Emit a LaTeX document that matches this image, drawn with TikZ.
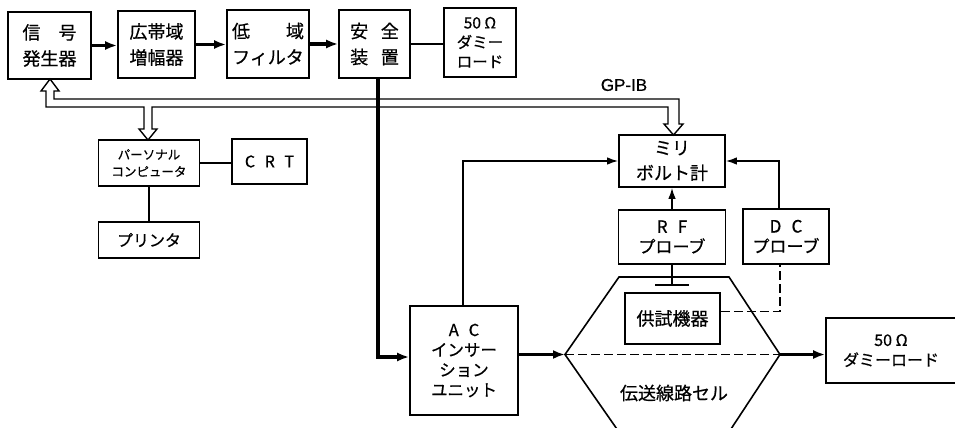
\documentclass[tikz,border=0pt]{standalone}
\usepackage{fontspec}
\setmainfont[FakeBold=0.6]{Noto Sans CJK JP}
\newfontfamily\latf[FakeBold=0.5]{Liberation Sans}
\usetikzlibrary{arrows.meta}
\tikzset{
  box/.style={draw, line width=1.6pt, inner sep=0pt, align=center},
  big/.style={font=\fontsize{18}{26}\selectfont},
  mid/.style={font=\fontsize{15.5}{19.5}\selectfont},
  thickarr/.style={line width=3.2pt, -{Latex[length=12pt,width=9pt]}},
  thinarr/.style={line width=1.6pt, -{Latex[length=11pt,width=7.5pt]}},
  thinline/.style={line width=1.6pt},
  dashline/.style={line width=1.6pt, dash pattern=on 9pt off 4pt},
  bus/.style={line width=1.4pt, line join=miter}
}
\begin{document}
\begin{tikzpicture}[x=1pt,y=-1pt]
\fill[white] (0,0) rectangle (955,428);
\useasboundingbox (0,0) rectangle (955,428);
\clip (0,0) rectangle (955,428);

% top row
\node[box,big,minimum width=83pt,minimum height=67pt] (sg) at (49.5,45.5) {信　号\\発生器};
\node[box,big,minimum width=77pt,minimum height=67pt] (amp) at (156.5,44.5) {広帯域\\増幅器};
\node[box,big,minimum width=82pt,minimum height=68pt] (lpf) at (268,44) {低　　域\\フィルタ};
\node[box,big,minimum width=71pt,minimum height=68pt] (safe) at (374.5,44) {安\hspace{0.7em}全\\装\hspace{0.7em}置};
\node[box,mid,minimum width=72pt,minimum height=69pt] (d1) at (480,42.5) {50 Ω\\ダミー\\ロード};

% computer part
\node[box,font=\fontsize{12.5}{17}\selectfont,minimum width=101pt,minimum height=46pt] (pc) at (149,163) {パーソナル\\コンピュータ};
\node[box,font=\fontsize{16}{18}\selectfont,minimum width=75pt,minimum height=45pt] (crt) at (269.5,161.5) {C\hspace{0.6em}R\hspace{0.6em}T};
\node[box,font=\fontsize{16}{18}\selectfont,minimum width=101pt,minimum height=36pt] (prn) at (149,240) {プリンタ};

% measurement part
\node[box,minimum width=106pt,minimum height=52pt,font=\fontsize{18}{25}\selectfont] (mv) at (672,161) {ミリ\\ボルト計};
\node[box,minimum width=107pt,minimum height=54pt,font=\fontsize{17}{20}\selectfont] (rf) at (672,237) {R\hspace{0.6em}F\\プローブ};
\node[box,minimum width=86pt,minimum height=55pt,font=\fontsize{17}{20}\selectfont] (dc) at (786,236.5) {D\hspace{0.6em}C\\プローブ};
\node[box,minimum width=108pt,minimum height=109pt,font=\fontsize{16.5}{20}\selectfont] (ac) at (464,360.5) {A\hspace{0.6em}C\\インサー\\ション\\ユニット};
\node[box,big,minimum width=95pt,minimum height=51pt] (dut) at (672.5,318.5) {供試機器};
\node[box,minimum width=130pt,minimum height=65pt,font=\fontsize{16}{20}\selectfont] (d2) at (891,350.5) {50 Ω\\ダミーロード};

% transmission line cell (hexagon)
\coordinate (hl) at (565,354.5);
\coordinate (hr) at (780,354.5);
\coordinate (htl) at (619,277);
\coordinate (htr) at (729,277);
\coordinate (hbl) at (619,432);
\coordinate (hbr) at (729,432);
\draw[line width=1.6pt, line join=miter] (hl) -- (htl) -- (htr) -- (hr) -- (hbr) -- (hbl) -- cycle;
\node[big] (cell) at (674,393) {伝送線路セル};

% top row connectors
\draw[thickarr] (sg.east) -- (sg.east -| amp.west);
\draw[thickarr] (amp.east) -- (amp.east -| lpf.west);
\draw[thickarr] (lpf.east) -- (lpf.east -| safe.west);
\draw[thinline] (safe.east) -- (safe.east -| d1.west);

% GP-IB bus
\coordinate (tipsg) at (50,79);
\coordinate (tippc) at (148,140);
\coordinate (tipmv) at (673.5,135);
\draw[bus, fill=white]
  (54,91) -- (54,99) -- (679,99) -- (679,124) -- (683,124) -- (tipmv) -- (664,124) -- (668,124)
  -- (668,107) -- (152,107) -- (152,129) -- (157,129) -- (tippc) -- (139,129) -- (144,129)
  -- (144,107) -- (46,107) -- (46,91) -- (41,91) -- (tipsg) -- (59,91) -- cycle;
\node[font=\latf\fontsize{17}{18}\selectfont] (gpib) at (624,85) {GP-IB};

% safety device to AC insertion unit
\draw[thickarr] ([xshift=3.5pt]safe.south) |- ([yshift=3.5pt]ac.west);
\draw[thickarr] (hl -| ac.east) -- (hl);
\draw[thickarr] (hr) -- (hr -| d2.west);
\draw[dashline] (hl) -- (hr);

% to millivoltmeter
\draw[thinarr] ([xshift=-1pt]ac.north) |- (mv.west);
\draw[thinarr] ([xshift=-7pt]dc.north) |- (mv.east);
\draw[thinarr] (rf.north) -- (mv.south);

% RF probe contact
\coordinate (tb) at (672,285);
\draw[thinline] (rf.south) -- (tb);
\draw[line width=2pt] ([xshift=-17pt]tb) -- ([xshift=17pt]tb);

% DUT to DC probe
\draw[dashline] ([yshift=7pt]dut.east) -| ([xshift=-6pt]dc.south);

% PC connections
\draw[thinline] (pc.east) -- (pc.east -| crt.west);
\draw[thinline] (pc.south) -- (prn.north);
\end{tikzpicture}
\end{document}
